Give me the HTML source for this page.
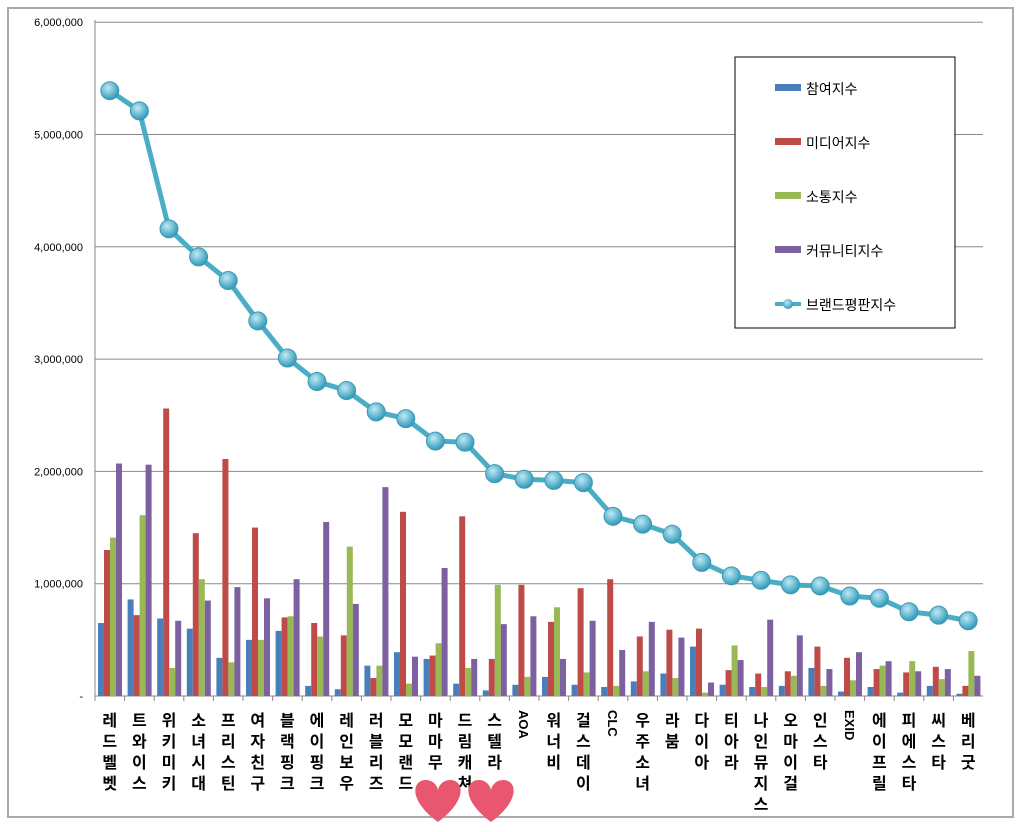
<!DOCTYPE html>
<html><head><meta charset="utf-8"><style>
body{margin:0;background:#fff;width:1023px;height:827px;overflow:hidden}
</style></head><body>
<svg id="c" width="1023" height="827" xmlns="http://www.w3.org/2000/svg" font-family="Liberation Sans, Noto Sans CJK KR, sans-serif"></svg>
<script>
const D=[["레드벨벳",650,1300,1410,2070,5390],["트와이스",860,720,1610,2060,5210],["위키미키",690,2560,250,670,4160],["소녀시대",600,1450,1040,850,3910],["프리스틴",340,2110,300,970,3700],["여자친구",500,1500,500,870,3340],["블랙핑크",580,700,710,1040,3010],["에이핑크",90,650,530,1550,2800],["레인보우",60,540,1330,820,2720],["러블리즈",270,160,270,1860,2530],["모모랜드",390,1640,110,350,2470],["마마무",330,360,470,1140,2270],["드림캐쳐",110,1600,250,330,2260],["스텔라",50,330,990,640,1980],["AOA",100,990,170,710,1930],["워너비",170,660,790,330,1920],["걸스데이",100,960,210,670,1900],["CLC",80,1040,90,410,1600],["우주소녀",130,530,220,660,1530],["라붐",200,590,160,520,1440],["다이아",440,600,30,120,1190],["티아라",100,230,450,320,1070],["나인뮤지스",80,200,80,680,1030],["오마이걸",90,220,180,540,990],["인스타",250,440,90,240,980],["EXID",40,340,140,390,890],["에이프릴",80,240,270,310,870],["피에스타",30,210,310,220,750],["씨스타",90,260,150,240,720],["베리굿",20,90,400,180,670]];
const X0=95,Y0=696,K=112.3/1000,G=29.6;
const cols=["#4a7ebb","#be4b48","#98b954","#7d60a0"];
let s='<rect x="8" y="8" width="1005" height="809" fill="#fff" stroke="#aaa" stroke-width="2"/>';
for(let i=0;i<=6;i++){let y=Y0-i*112.3;
 if(i>0)s+=`<line x1="${X0}" x2="${X0+30*G}" y1="${y}" y2="${y}" stroke="#888" stroke-width="1"/>`;
 s+=`<text x="${X0-12}" y="${y+4}" font-size="11" text-anchor="end">${i?(i+",000,000"):"-"}</text>`;}
s+=`<line x1="${X0}" x2="${X0}" y1="20" y2="${Y0}" stroke="#888"/><line x1="${X0}" x2="${X0+30*G}" y1="${Y0}" y2="${Y0}" stroke="#888"/>`;
let pts=[];
D.forEach((d,i)=>{let gx=X0+i*G;
 s+=`<line x1="${gx}" x2="${gx}" y1="${Y0}" y2="${Y0+5}" stroke="#888"/>`;
 for(let j=0;j<4;j++){let h=d[j+1]*K;s+=`<rect x="${gx+3+j*6}" y="${Y0-h}" width="6" height="${h}" fill="${cols[j]}"/>`;}
 let cx=gx+G/2;pts.push([cx,Y0-d[5]*K]);
 let n=d[0];
 if(/^[A-Z]+$/.test(n)) s+=`<text transform="translate(${cx-5},710) rotate(90)" font-size="13" font-weight="bold">${n}</text>`;
 else [...n].forEach((ch,k)=>s+=`<text x="${cx}" y="${726+k*21}" font-size="16" font-weight="bold" text-anchor="middle">${ch}</text>`);
});
s+=`<defs><radialGradient id="g" cx="40%" cy="35%" r="65%"><stop offset="0" stop-color="#bfe9f5"/><stop offset="1" stop-color="#2f9ab8"/></radialGradient></defs>`;
s+=`<polyline points="${pts.map(p=>p.join(',')).join(' ')}" fill="none" stroke="#4bacc6" stroke-width="5"/>`;
pts.forEach(p=>s+=`<circle cx="${p[0]}" cy="${p[1]}" r="9" fill="url(#g)" stroke="#3b9ab5"/>`);
// legend
s+=`<rect x="735" y="57" width="220" height="271" fill="#fff" stroke="#000"/>`;
const L=["참여지수","미디어지수","소통지수","커뮤니티지수"];
L.forEach((t,i)=>{let y=88+i*54;s+=`<rect x="775" y="${y-4}" width="26" height="7" fill="${cols[i]}"/><text x="806" y="${y+6}" font-size="14">${t}</text>`});
s+=`<line x1="775" x2="801" y1="304" y2="304" stroke="#4bacc6" stroke-width="4"/><circle cx="788" cy="304" r="5" fill="url(#g)"/><text x="806" y="310" font-size="14">브랜드평판지수</text>`;
// hearts
function heart(cx,cy){return `<path d="M${cx},${cy+22} C${cx-30},${cy} ${cx-26},${cy-20} ${cx-12},${cy-20} C${cx-5},${cy-20} ${cx},${cy-14} ${cx},${cy-9} C${cx},${cy-14} ${cx+5},${cy-20} ${cx+12},${cy-20} C${cx+26},${cy-20} ${cx+30},${cy} ${cx},${cy+22}Z" fill="#e8566f"/>`}
s+=heart(438,800)+heart(491,800);
document.getElementById('c').innerHTML=s;
</script>
</body></html>
